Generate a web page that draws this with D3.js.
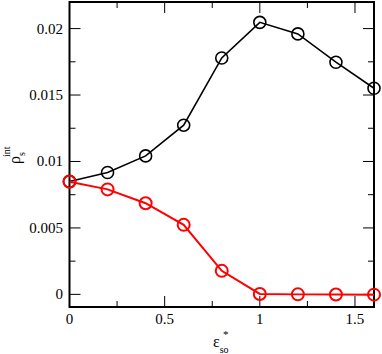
<!DOCTYPE html>
<html><head><meta charset="utf-8">
<script src="https://d3js.org/d3.v7.min.js"></script>
<style>body{margin:0;background:#fff}svg{display:block}</style>
</head><body>
<script>
const xValues = [0, 0.2, 0.4, 0.6, 0.8, 1.0, 1.2, 1.4, 1.6];
const blackSeries = [0.0085, 0.00917, 0.01042, 0.01273, 0.01779, 0.02047, 0.0196, 0.01747, 0.01551];
const redSeries = [0.00847, 0.0079, 0.00686, 0.00523, 0.00177, 0.00003, 0.0, -0.00001, -0.00002];
const xTicks = [0, 0.5, 1, 1.5];
const xTickLabels = ["0", "0.5", "1", "1.5"];
const xMinor = [0.25, 0.75, 1.25];
const yTicks = [0, 0.005, 0.01, 0.015, 0.02];
const yTickLabels = ["0", "0.005", "0.01", "0.015", "0.02"];
const yMinor = [0.0025, 0.0075, 0.0125, 0.0175];

const FONT = "'Liberation Serif', Tinos, 'Times New Roman', Times, serif";
const W = 382, H = 354;
const L = 69.5, R = 374, T = 2, B = 307;
const svg = d3.select("body").append("svg").attr("width", W).attr("height", H)
  .style("font-family", FONT);
const x = d3.scaleLinear().domain([0, 1.6]).range([L, R]);
const y = d3.scaleLinear().domain([-0.00095, 0.022]).range([B, T]);

const g = svg.append("g");
function ticks(vals, len) {
  vals.forEach(v => {
    const px = x(v);
    g.append("line").attr("x1", px).attr("x2", px).attr("y1", B).attr("y2", B - len).attr("stroke", "#000").attr("stroke-width", 1);
    g.append("line").attr("x1", px).attr("x2", px).attr("y1", T).attr("y2", T + len).attr("stroke", "#000").attr("stroke-width", 1);
  });
}
function yticks(vals, len) {
  vals.forEach(v => {
    const py = y(v);
    g.append("line").attr("x1", L).attr("x2", L + len).attr("y1", py).attr("y2", py).attr("stroke", "#000").attr("stroke-width", 1);
    g.append("line").attr("x1", R).attr("x2", R - len).attr("y1", py).attr("y2", py).attr("stroke", "#000").attr("stroke-width", 1);
  });
}
ticks(xTicks, 11); ticks(xMinor, 6);
yticks(yTicks, 11); yticks(yMinor, 6);

g.append("rect").attr("x", L).attr("y", T).attr("width", R - L).attr("height", B - T)
  .attr("fill", "none").attr("stroke", "#000").attr("stroke-width", 2);

xTicks.forEach((v, i) => {
  g.append("text").attr("x", x(v)).attr("y", 324).attr("text-anchor", "middle")
    .style("font-family", FONT).attr("font-size", 15).text(xTickLabels[i]);
});
yTicks.forEach((v, i) => {
  g.append("text").attr("x", 63).attr("y", y(v) + 5).attr("text-anchor", "end")
    .style("font-family", FONT).attr("font-size", 15).text(yTickLabels[i]);
});

const line = d3.line().x((d, i) => x(xValues[i])).y(d => y(d));
function series(vals, color, sw) {
  g.append("path").datum(vals).attr("d", line).attr("fill", "none").attr("stroke", color).attr("stroke-width", sw);
  g.selectAll(null).data(vals).enter().append("circle")
    .attr("cx", (d, i) => x(xValues[i])).attr("cy", d => y(d)).attr("r", 6)
    .attr("fill", "none").attr("stroke", color).attr("stroke-width", sw);
}
series(blackSeries, "#000", 1.6);
series(redSeries, "#ff0000", 2);

// x label
const xl = svg.append("text").attr("x", 213).attr("y", 347).attr("font-size", 16).style("font-family", FONT);
xl.append("tspan").text("ε");
xl.append("tspan").attr("font-size", 10).attr("dy", 6).text("so");
svg.append("text").attr("x", 223).attr("y", 338).attr("font-size", 11).style("font-family", FONT).text("*");

// y label rotated
const yl = svg.append("text").attr("transform", "translate(20,164) rotate(-90)").attr("font-size", 16).style("font-family", FONT);
yl.append("tspan").text("ρ");
yl.append("tspan").attr("font-size", 10).attr("dy", 5).text("s");
yl.append("tspan").attr("font-size", 10).attr("dx", -5).attr("dy", -15).text("int");
</script>
</body></html>
